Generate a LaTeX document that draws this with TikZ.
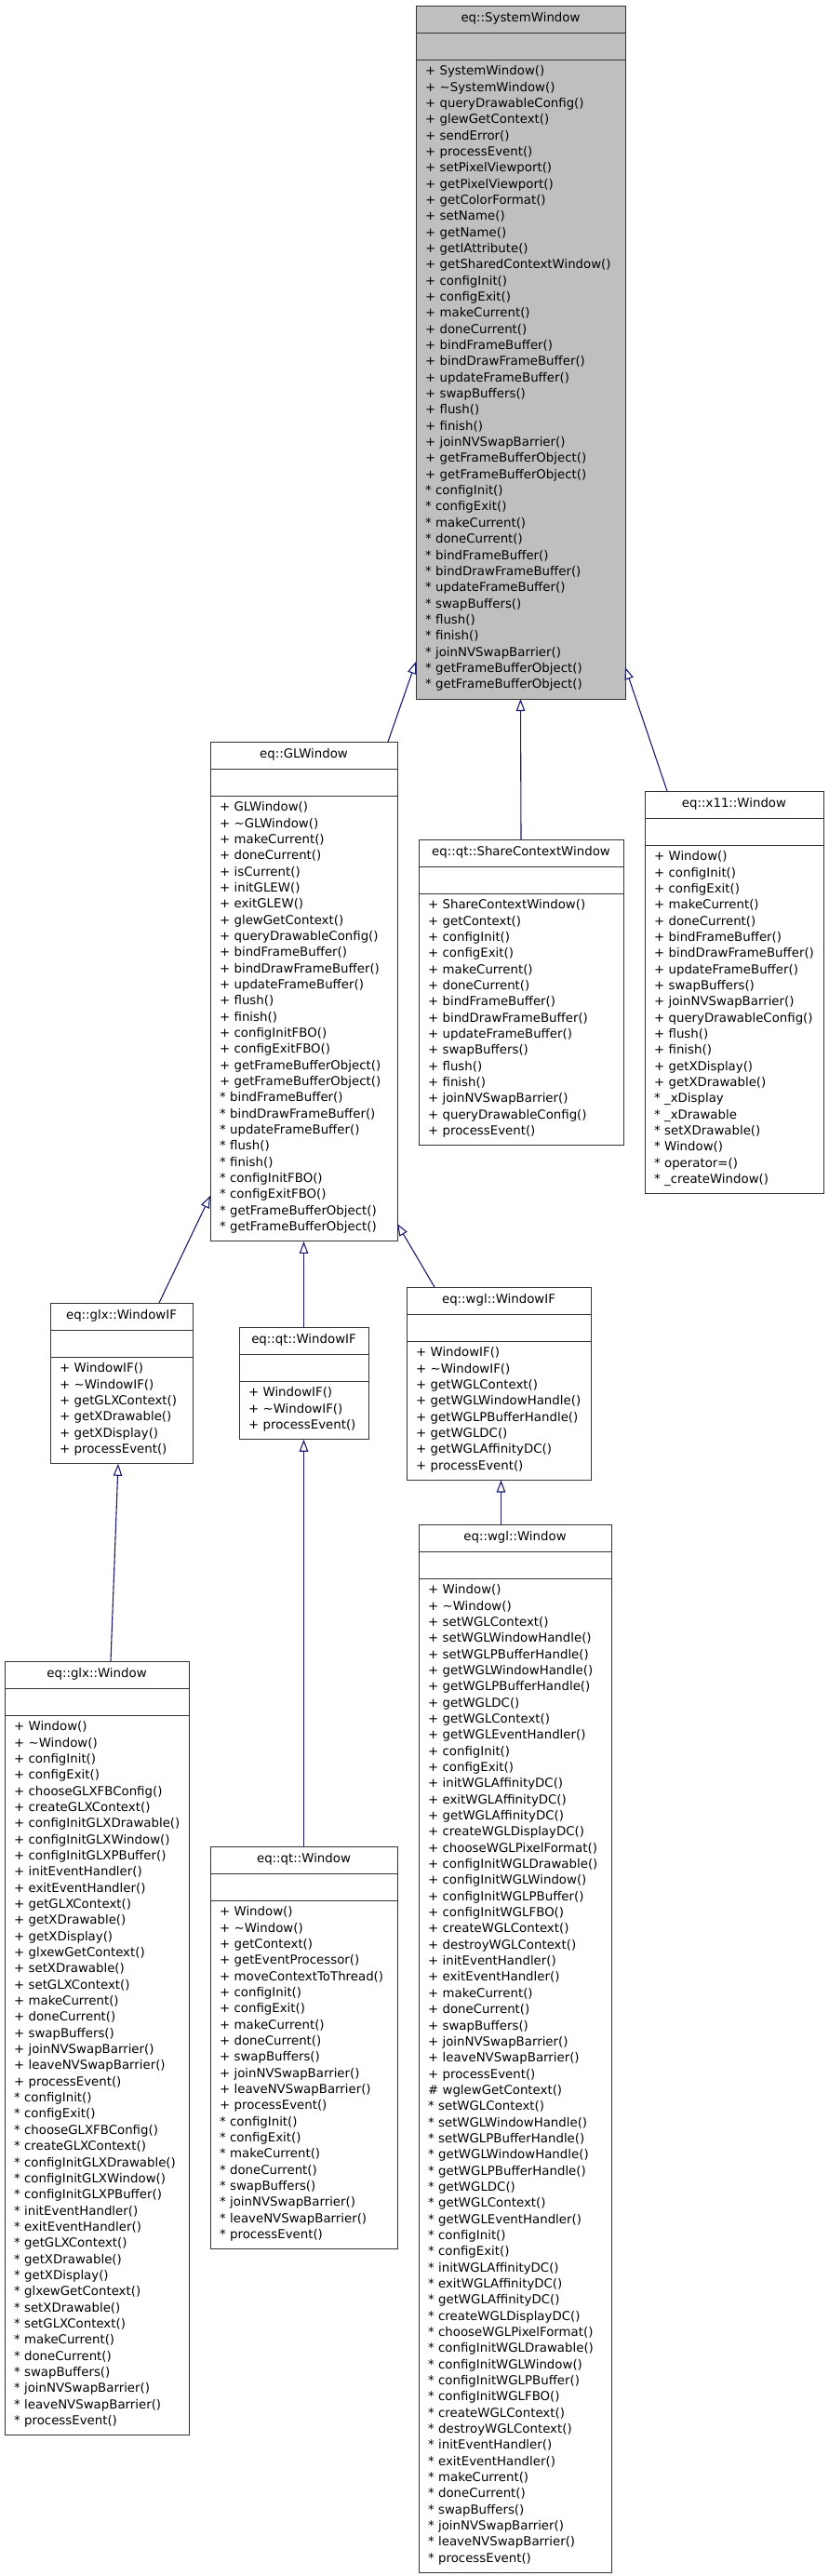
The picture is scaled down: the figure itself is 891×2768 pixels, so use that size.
\documentclass[tikz,border=0pt]{standalone}
\usepackage{fontspec}
\setmainfont{DejaVu Sans}
\usetikzlibrary{shapes.multipart,arrows.meta}

\definecolor{edgeblue}{RGB}{25,25,112}
\definecolor{focusgray}{RGB}{191,191,191}

% one member line, and the struts that pad a compartment
\newcommand{\rowstrut}{\rule[-5.04pt]{0pt}{17.34pt}}
\newcommand{\mrow}[1]{\mbox{\rowstrut#1}}
\newcommand{\bodytop}{\rule{0pt}{16.3pt}}
\newcommand{\bodyend}{\rule[-10.8pt]{0pt}{0pt}}
\newcommand{\ctitle}[1]{\makebox[\hsize][c]{\rule[-11.5pt]{0pt}{28pt}#1}}
\newcommand{\cempty}{\rule{0pt}{28pt}}

\tikzset{
  classbox/.style={rectangle split, rectangle split parts=3, draw=black!80, fill=white,
    line width=1pt, inner xsep=10pt, inner ysep=0pt, outer sep=0pt, anchor=north west,
    text width=#1, font=\fontsize{13.33pt}{17.34pt}\selectfont},
  inherits/.style={draw=edgeblue, line width=1.1pt, -{Triangle[open, length=13pt, width=9.5pt]}},
}

\begin{document}
\begin{tikzpicture}[x=1pt,y=-1pt]
  \path[use as bounding box, fill=white] (0,0) rectangle (891,2768);
  % 
  \node[classbox=205pt, fill=focusgray] (sw) at (447,6) {\ctitle{eq::SystemWindow}
    \nodepart{two}\cempty
    \nodepart{three}\bodytop\mrow{+ SystemWindow()}\\ \mrow{+ \textasciitilde SystemWindow()}\\
    \mrow{+ queryDrawableConfig()}\\ \mrow{+ glewGetContext()}\\ \mrow{+ sendError()}\\
    \mrow{+ processEvent()}\\ \mrow{+ setPixelViewport()}\\ \mrow{+ getPixelViewport()}\\
    \mrow{+ getColorFormat()}\\ \mrow{+ setName()}\\ \mrow{+ getName()}\\
    \mrow{+ getIAttribute()}\\ \mrow{+ getSharedContextWindow()}\\ \mrow{+ configInit()}\\
    \mrow{+ configExit()}\\ \mrow{+ makeCurrent()}\\ \mrow{+ doneCurrent()}\\
    \mrow{+ bindFrameBuffer()}\\ \mrow{+ bindDrawFrameBuffer()}\\ \mrow{+ updateFrameBuffer()}\\
    \mrow{+ swapBuffers()}\\ \mrow{+ flush()}\\ \mrow{+ finish()}\\
    \mrow{+ joinNVSwapBarrier()}\\ \mrow{+ getFrameBufferObject()}\\ \mrow{+ getFrameBufferObject()}\\
    \mrow{* configInit()}\\ \mrow{* configExit()}\\ \mrow{* makeCurrent()}\\
    \mrow{* doneCurrent()}\\ \mrow{* bindFrameBuffer()}\\ \mrow{* bindDrawFrameBuffer()}\\
    \mrow{* updateFrameBuffer()}\\ \mrow{* swapBuffers()}\\ \mrow{* flush()}\\
    \mrow{* finish()}\\ \mrow{* joinNVSwapBarrier()}\\ \mrow{* getFrameBufferObject()}\\
    \mrow{* getFrameBufferObject()}\bodyend};
  % 
  \node[classbox=181pt] (glw) at (226,797) {\ctitle{eq::GLWindow}
    \nodepart{two}\cempty
    \nodepart{three}\bodytop\mrow{+ GLWindow()}\\ \mrow{+ \textasciitilde GLWindow()}\\
    \mrow{+ makeCurrent()}\\ \mrow{+ doneCurrent()}\\ \mrow{+ isCurrent()}\\
    \mrow{+ initGLEW()}\\ \mrow{+ exitGLEW()}\\ \mrow{+ glewGetContext()}\\
    \mrow{+ queryDrawableConfig()}\\ \mrow{+ bindFrameBuffer()}\\ \mrow{+ bindDrawFrameBuffer()}\\
    \mrow{+ updateFrameBuffer()}\\ \mrow{+ flush()}\\ \mrow{+ finish()}\\
    \mrow{+ configInitFBO()}\\ \mrow{+ configExitFBO()}\\ \mrow{+ getFrameBufferObject()}\\
    \mrow{+ getFrameBufferObject()}\\ \mrow{* bindFrameBuffer()}\\ \mrow{* bindDrawFrameBuffer()}\\
    \mrow{* updateFrameBuffer()}\\ \mrow{* flush()}\\ \mrow{* finish()}\\
    \mrow{* configInitFBO()}\\ \mrow{* configExitFBO()}\\ \mrow{* getFrameBufferObject()}\\
    \mrow{* getFrameBufferObject()}\bodyend};
  % 
  \node[classbox=200pt] (qtscw) at (450,902) {\ctitle{eq::qt::ShareContextWindow}
    \nodepart{two}\cempty
    \nodepart{three}\bodytop\mrow{+ ShareContextWindow()}\\ \mrow{+ getContext()}\\
    \mrow{+ configInit()}\\ \mrow{+ configExit()}\\ \mrow{+ makeCurrent()}\\
    \mrow{+ doneCurrent()}\\ \mrow{+ bindFrameBuffer()}\\ \mrow{+ bindDrawFrameBuffer()}\\
    \mrow{+ updateFrameBuffer()}\\ \mrow{+ swapBuffers()}\\ \mrow{+ flush()}\\
    \mrow{+ finish()}\\ \mrow{+ joinNVSwapBarrier()}\\ \mrow{+ queryDrawableConfig()}\\
    \mrow{+ processEvent()}\bodyend};
  % 
  \node[classbox=172pt] (x11w) at (693,850) {\ctitle{eq::x11::Window}
    \nodepart{two}\cempty
    \nodepart{three}\bodytop\mrow{+ Window()}\\ \mrow{+ configInit()}\\ \mrow{+ configExit()}\\
    \mrow{+ makeCurrent()}\\ \mrow{+ doneCurrent()}\\ \mrow{+ bindFrameBuffer()}\\
    \mrow{+ bindDrawFrameBuffer()}\\ \mrow{+ updateFrameBuffer()}\\ \mrow{+ swapBuffers()}\\
    \mrow{+ joinNVSwapBarrier()}\\ \mrow{+ queryDrawableConfig()}\\ \mrow{+ flush()}\\
    \mrow{+ finish()}\\ \mrow{+ getXDisplay()}\\ \mrow{+ getXDrawable()}\\
    \mrow{* \_xDisplay}\\ \mrow{* \_xDrawable}\\ \mrow{* setXDrawable()}\\
    \mrow{* Window()}\\ \mrow{* operator=()}\\ \mrow{* \_createWindow()}\bodyend};
  % 
  \node[classbox=133pt] (glxif) at (54,1400) {\ctitle{eq::glx::WindowIF}
    \nodepart{two}\cempty
    \nodepart{three}\bodytop\mrow{+ WindowIF()}\\ \mrow{+ \textasciitilde WindowIF()}\\
    \mrow{+ getGLXContext()}\\ \mrow{+ getXDrawable()}\\ \mrow{+ getXDisplay()}\\
    \mrow{+ processEvent()}\bodyend};
  % 
  \node[classbox=119pt] (qtif) at (257,1426) {\ctitle{eq::qt::WindowIF}
    \nodepart{two}\cempty
    \nodepart{three}\bodytop\mrow{+ WindowIF()}\\ \mrow{+ \textasciitilde WindowIF()}\\
    \mrow{+ processEvent()}\bodyend};
  % 
  \node[classbox=178pt] (wglif) at (437,1383) {\ctitle{eq::wgl::WindowIF}
    \nodepart{two}\cempty
    \nodepart{three}\bodytop\mrow{+ WindowIF()}\\ \mrow{+ \textasciitilde WindowIF()}\\
    \mrow{+ getWGLContext()}\\ \mrow{+ getWGLWindowHandle()}\\ \mrow{+ getWGLPBufferHandle()}\\
    \mrow{+ getWGLDC()}\\ \mrow{+ getWGLAffinityDC()}\\ \mrow{+ processEvent()}\bodyend};
  % 
  \node[classbox=178pt] (glxw) at (5,1785) {\ctitle{eq::glx::Window}
    \nodepart{two}\cempty
    \nodepart{three}\bodytop\mrow{+ Window()}\\ \mrow{+ \textasciitilde Window()}\\
    \mrow{+ configInit()}\\ \mrow{+ configExit()}\\ \mrow{+ chooseGLXFBConfig()}\\
    \mrow{+ createGLXContext()}\\ \mrow{+ configInitGLXDrawable()}\\ \mrow{+ configInitGLXWindow()}\\
    \mrow{+ configInitGLXPBuffer()}\\ \mrow{+ initEventHandler()}\\ \mrow{+ exitEventHandler()}\\
    \mrow{+ getGLXContext()}\\ \mrow{+ getXDrawable()}\\ \mrow{+ getXDisplay()}\\
    \mrow{+ glxewGetContext()}\\ \mrow{+ setXDrawable()}\\ \mrow{+ setGLXContext()}\\
    \mrow{+ makeCurrent()}\\ \mrow{+ doneCurrent()}\\ \mrow{+ swapBuffers()}\\
    \mrow{+ joinNVSwapBarrier()}\\ \mrow{+ leaveNVSwapBarrier()}\\ \mrow{+ processEvent()}\\
    \mrow{* configInit()}\\ \mrow{* configExit()}\\ \mrow{* chooseGLXFBConfig()}\\
    \mrow{* createGLXContext()}\\ \mrow{* configInitGLXDrawable()}\\ \mrow{* configInitGLXWindow()}\\
    \mrow{* configInitGLXPBuffer()}\\ \mrow{* initEventHandler()}\\ \mrow{* exitEventHandler()}\\
    \mrow{* getGLXContext()}\\ \mrow{* getXDrawable()}\\ \mrow{* getXDisplay()}\\
    \mrow{* glxewGetContext()}\\ \mrow{* setXDrawable()}\\ \mrow{* setGLXContext()}\\
    \mrow{* makeCurrent()}\\ \mrow{* doneCurrent()}\\ \mrow{* swapBuffers()}\\
    \mrow{* joinNVSwapBarrier()}\\ \mrow{* leaveNVSwapBarrier()}\\ \mrow{* processEvent()}\bodyend};
  % 
  \node[classbox=181pt] (qtw) at (226,1984) {\ctitle{eq::qt::Window}
    \nodepart{two}\cempty
    \nodepart{three}\bodytop\mrow{+ Window()}\\ \mrow{+ \textasciitilde Window()}\\
    \mrow{+ getContext()}\\ \mrow{+ getEventProcessor()}\\ \mrow{+ moveContextToThread()}\\
    \mrow{+ configInit()}\\ \mrow{+ configExit()}\\ \mrow{+ makeCurrent()}\\
    \mrow{+ doneCurrent()}\\ \mrow{+ swapBuffers()}\\ \mrow{+ joinNVSwapBarrier()}\\
    \mrow{+ leaveNVSwapBarrier()}\\ \mrow{+ processEvent()}\\ \mrow{* configInit()}\\
    \mrow{* configExit()}\\ \mrow{* makeCurrent()}\\ \mrow{* doneCurrent()}\\
    \mrow{* swapBuffers()}\\ \mrow{* joinNVSwapBarrier()}\\ \mrow{* leaveNVSwapBarrier()}\\
    \mrow{* processEvent()}\bodyend};
  % 
  \node[classbox=187pt] (wglw) at (450,1638) {\ctitle{eq::wgl::Window}
    \nodepart{two}\cempty
    \nodepart{three}\bodytop\mrow{+ Window()}\\ \mrow{+ \textasciitilde Window()}\\
    \mrow{+ setWGLContext()}\\ \mrow{+ setWGLWindowHandle()}\\ \mrow{+ setWGLPBufferHandle()}\\
    \mrow{+ getWGLWindowHandle()}\\ \mrow{+ getWGLPBufferHandle()}\\ \mrow{+ getWGLDC()}\\
    \mrow{+ getWGLContext()}\\ \mrow{+ getWGLEventHandler()}\\ \mrow{+ configInit()}\\
    \mrow{+ configExit()}\\ \mrow{+ initWGLAffinityDC()}\\ \mrow{+ exitWGLAffinityDC()}\\
    \mrow{+ getWGLAffinityDC()}\\ \mrow{+ createWGLDisplayDC()}\\ \mrow{+ chooseWGLPixelFormat()}\\
    \mrow{+ configInitWGLDrawable()}\\ \mrow{+ configInitWGLWindow()}\\ \mrow{+ configInitWGLPBuffer()}\\
    \mrow{+ configInitWGLFBO()}\\ \mrow{+ createWGLContext()}\\ \mrow{+ destroyWGLContext()}\\
    \mrow{+ initEventHandler()}\\ \mrow{+ exitEventHandler()}\\ \mrow{+ makeCurrent()}\\
    \mrow{+ doneCurrent()}\\ \mrow{+ swapBuffers()}\\ \mrow{+ joinNVSwapBarrier()}\\
    \mrow{+ leaveNVSwapBarrier()}\\ \mrow{+ processEvent()}\\ \mrow{\# wglewGetContext()}\\
    \mrow{* setWGLContext()}\\ \mrow{* setWGLWindowHandle()}\\ \mrow{* setWGLPBufferHandle()}\\
    \mrow{* getWGLWindowHandle()}\\ \mrow{* getWGLPBufferHandle()}\\ \mrow{* getWGLDC()}\\
    \mrow{* getWGLContext()}\\ \mrow{* getWGLEventHandler()}\\ \mrow{* configInit()}\\
    \mrow{* configExit()}\\ \mrow{* initWGLAffinityDC()}\\ \mrow{* exitWGLAffinityDC()}\\
    \mrow{* getWGLAffinityDC()}\\ \mrow{* createWGLDisplayDC()}\\ \mrow{* chooseWGLPixelFormat()}\\
    \mrow{* configInitWGLDrawable()}\\ \mrow{* configInitWGLWindow()}\\ \mrow{* configInitWGLPBuffer()}\\
    \mrow{* configInitWGLFBO()}\\ \mrow{* createWGLContext()}\\ \mrow{* destroyWGLContext()}\\
    \mrow{* initEventHandler()}\\ \mrow{* exitEventHandler()}\\ \mrow{* makeCurrent()}\\
    \mrow{* doneCurrent()}\\ \mrow{* swapBuffers()}\\ \mrow{* joinNVSwapBarrier()}\\
    \mrow{* leaveNVSwapBarrier()}\\ \mrow{* processEvent()}\bodyend};
  % 
  \draw[inherits] ([xshift=-10pt]glw.north east) -- ([yshift=40pt]sw.south west);
  \draw[inherits] (qtscw.north) -- (sw.south);
  \draw[inherits] ([xshift=24pt]x11w.north west) -- ([yshift=34pt]sw.south east);
  \draw[inherits] ([xshift=-36pt]glxif.north east) -- ([yshift=49pt]glw.south west);
  \draw[inherits] (qtif.north) -- (glw.south);
  \draw[inherits] ([xshift=30pt]wglif.north west) -- ([yshift=19pt]glw.south east);
  \draw[inherits] ([xshift=15pt]glxw.north) -- ([xshift=-3.5pt]glxif.south);
  \draw[inherits] (qtw.north) -- (qtif.south);
  \draw[inherits] ([xshift=-15pt]wglw.north) -- ([xshift=2.5pt]wglif.south);
\end{tikzpicture}
\end{document}
